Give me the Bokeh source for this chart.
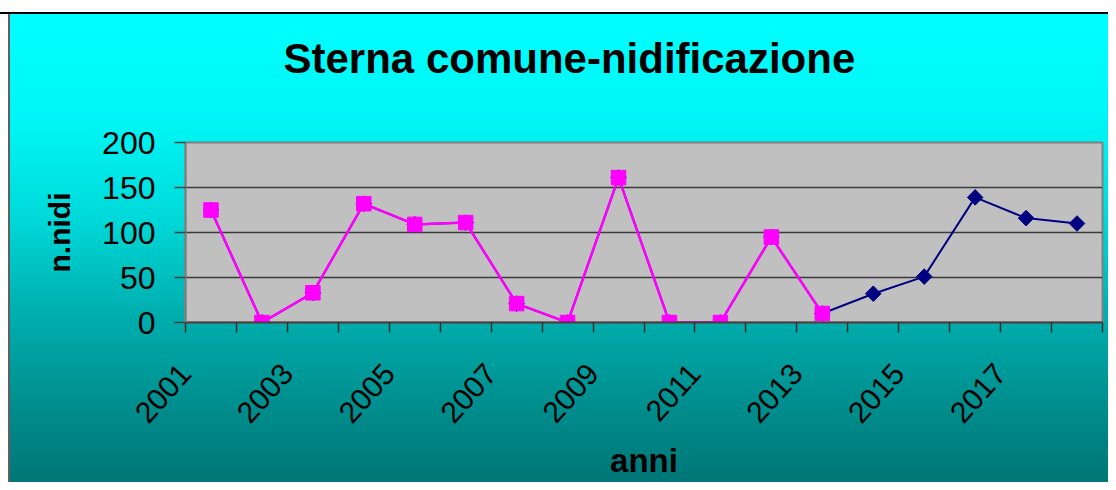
import math
from bokeh.plotting import figure
from bokeh.models import Range1d, FixedTicker, ColumnDataSource, Title
from bokeh.embed import file_html
from bokeh.resources import INLINE

# ---- data ----
years = ["2001", "2002", "2003", "2004", "2005", "2006", "2007", "2008", "2009",
         "2010", "2011", "2012", "2013", "2014", "2015", "2016", "2017", "2018"]
nidi = [125, 0, 33, 132, 109, 111, 21, 0, 161, 0, 0, 95, 10, 32, 51, 139, 116, 110]
magenta_n = 13  # first series covers 2001-2013
y_ticks = [0, 50, 100, 150, 200]
title_text = "Sterna comune-nidificazione"

# categories occupy [i, i+1]; points sit at the centre, labels at the left edge
n = len(years)
x_all = [i + 0.5 for i in range(n)]
src_all = ColumnDataSource(dict(x=x_all, y=nidi))
src_mag = ColumnDataSource(dict(x=x_all[:magenta_n], y=nidi[:magenta_n]))

FONT = "Liberation Sans"

p = figure(width=1108, height=482, output_backend="svg", toolbar_location=None,
           x_range=Range1d(0, n),
           y_range=Range1d(y_ticks[0], y_ticks[-1]),
           min_border_left=185, min_border_right=6, min_border_top=142, min_border_bottom=160)

p.background_fill_color = "#C0C0C0"
p.border_fill_alpha = 0
p.styles = {
    "background": (
        "linear-gradient(to bottom, #ffffff 0px, #ffffff 12px, #000000 12px, #000000 14px, transparent 14px),"
        "linear-gradient(to right, #ffffff 0px, #ffffff 8px, #606060 8px, #606060 10px, transparent 10px),"
        "linear-gradient(to bottom, #00ffff 0px, #00f6f6 120px, #00dcdc 210px, #00b0b0 310px, #008c8c 410px, #007676 482px)"
    )
}
p.outline_line_color = "#808080"
p.outline_line_width = 2

# spacer between the title and the plot area, then the title itself
p.add_layout(Title(text=" ", text_font_size="10px", standoff=43), "above")
p.add_layout(Title(text=title_text, text_font=FONT, text_font_style="bold",
                   text_font_size="42px", text_color="black", align="left",
                   offset=98, standoff=10), "above")

# y axis
ya = p.yaxis[0]
ya.ticker = FixedTicker(ticks=y_ticks)
ya.major_label_text_font = FONT
ya.major_label_text_font_size = "32px"
ya.major_label_text_color = "black"
ya.major_tick_out = 11
ya.major_tick_in = 0
ya.minor_tick_out = 0
ya.minor_tick_in = 0
ya.major_tick_line_color = "#404040"
ya.major_tick_line_width = 1.5
ya.axis_line_color = "#808080"
ya.axis_line_width = 2
ya.major_label_standoff = 19
ya.axis_label = "n.nidi"
ya.axis_label_text_font = FONT
ya.axis_label_text_font_style = "bold"
ya.axis_label_text_font_size = "30px"
ya.axis_label_text_color = "black"
ya.axis_label_standoff = 23

# x axis
xa = p.xaxis[0]
xa.ticker = FixedTicker(ticks=[i for i in range(n) if i % 2 == 0],
                        minor_ticks=list(range(n + 1)))
xa.major_label_overrides = {i: years[i] for i in range(n) if i % 2 == 0}
xa.major_label_orientation = 0.84
xa.major_label_text_font = FONT
xa.major_label_text_font_size = "30px"
xa.major_label_text_color = "black"
xa.major_tick_out = 0
xa.major_tick_in = 0
xa.minor_tick_out = 10
xa.minor_tick_in = 0
xa.minor_tick_line_color = "#303030"
xa.minor_tick_line_width = 1.5
xa.axis_line_color = "#404040"
xa.axis_line_width = 2
xa.major_label_standoff = 36
xa.axis_label = "anni"
xa.axis_label_text_font = FONT
xa.axis_label_text_font_style = "bold"
xa.axis_label_text_font_size = "33px"
xa.axis_label_text_color = "black"
xa.axis_label_standoff = 7

# grid
p.xgrid.visible = False
p.ygrid.ticker = FixedTicker(ticks=y_ticks[1:-1])
p.ygrid.grid_line_color = "#3a3a3a"
p.ygrid.grid_line_width = 1.5

# series
p.line("x", "y", source=src_all, line_color="#000080", line_width=2)
p.scatter("x", "y", source=src_all, marker="square", size=11, angle=math.pi / 4,
          fill_color="#000080", line_color="#000080")
p.line("x", "y", source=src_mag, line_color="#FF00FF", line_width=2.5)
p.scatter("x", "y", source=src_mag, marker="square", size=14.5,
          fill_color="#FF00FF", line_color="#FF00FF")

open("out.html", "w").write(file_html(p, INLINE))
